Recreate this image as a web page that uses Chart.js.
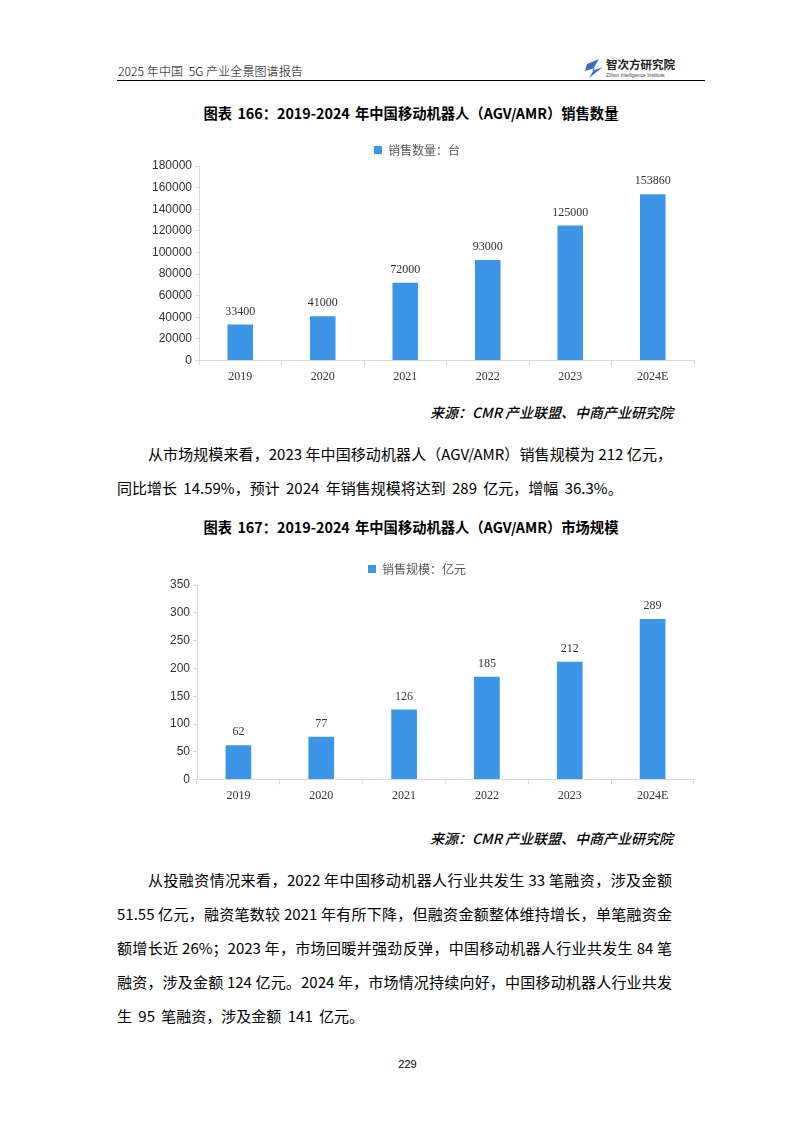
<!DOCTYPE html>
<html><head><meta charset="utf-8">
<script src="https://cdn.jsdelivr.net/npm/chart.js@4.4.1/dist/chart.umd.min.js"></script>
<style>
html,body{margin:0;padding:0;background:#fff;}
body{width:793px;height:1122px;position:relative;overflow:hidden;font-family:"Noto Sans CJK SC","Noto Sans",sans-serif;color:#000;}
.abs{position:absolute;}
.hdr{left:118px;top:62px;font-size:12px;font-family:"Noto Sans CJK SC";font-weight:300;letter-spacing:0.1px;}
.hline{left:117px;top:80px;width:588px;height:0;border-top:1.3px solid #000;}
.title{left:100px;width:622px;text-align:center;font-size:14.3px;font-weight:700;word-spacing:2px;}
.src{width:560px;left:113px;text-align:right;font-size:14px;font-style:italic;font-weight:500;}
.para{left:117px;width:555px;font-size:15px;}
.ln{height:34px;line-height:34px;text-align:justify;text-align-last:justify;white-space:nowrap;}
.ln.first{padding-left:31px;}
.ln.last{text-align-last:left;word-spacing:3px;}
.box{position:absolute;}
.pg{left:380px;width:55px;text-align:center;top:1058px;font-size:11px;font-family:"Liberation Sans",sans-serif;}
</style></head>
<body>
<div class="abs hdr">2025 年中国&nbsp; 5G 产业全景图谱报告</div>
<svg class="abs" style="left:583px;top:56px" width="124" height="24">
  <polygon points="4,8 16,3 9,15 20,11 6,22 12,12 2,15" fill="#3b6fc4"/>
  <text x="23" y="13" font-size="11.5" font-weight="700" font-family="Noto Sans CJK SC" fill="#222">智次方研究院</text>
  <text x="23" y="21" font-size="5" font-family="Liberation Sans" fill="#444">Zillion Intelligence Institute</text>
</svg>
<div class="abs hline"></div>

<div class="abs title" style="top:102px">图表 166：2019-2024 年中国移动机器人（AGV/AMR）销售数量</div>
<div class="box" style="left:140px;top:132px;width:560px;height:256px"><canvas id="c1"></canvas></div>
<div class="abs src" style="top:402px">来源：CMR 产业联盟、中商产业研究院</div>

<div class="abs para" style="top:437px">
<div class="ln first">从市场规模来看，2023 年中国移动机器人（AGV/AMR）销售规模为 212 亿元，</div>
<div class="ln last">同比增长 14.59%，预计 2024 年销售规模将达到 289 亿元，增幅 36.3%。</div>
</div>

<div class="abs title" style="top:516px">图表 167：2019-2024 年中国移动机器人（AGV/AMR）市场规模</div>
<div class="box" style="left:140px;top:551px;width:560px;height:256px"><canvas id="c2"></canvas></div>
<div class="abs src" style="top:828px">来源：CMR 产业联盟、中商产业研究院</div>

<div class="abs para" style="top:863px">
<div class="ln first">从投融资情况来看，2022 年中国移动机器人行业共发生 33 笔融资，涉及金额</div>
<div class="ln">51.55 亿元，融资笔数较 2021 年有所下降，但融资金额整体维持增长，单笔融资金</div>
<div class="ln">额增长近 26%；2023 年，市场回暖并强劲反弹，中国移动机器人行业共发生 84 笔</div>
<div class="ln">融资，涉及金额 124 亿元。2024 年，市场情况持续向好，中国移动机器人行业共发</div>
<div class="ln last">生 95 笔融资，涉及金额 141 亿元。</div>
</div>

<div class="abs pg">229</div>

<script>
// ---- data ----
const years = ["2019", "2020", "2021", "2022", "2023", "2024E"];
const salesUnits = [33400, 41000, 72000, 93000, 125000, 153860];
const salesUnitsLabel = "销售数量：台";
const marketSize = [62, 77, 126, 185, 212, 289];
const marketSizeLabel = "销售规模：亿元";
const axis1 = { min: 0, max: 180000, step: 20000 };
const axis2 = { min: 0, max: 350, step: 50 };

const BAR = "#3c95e6";
const AXIS = "#d9d9d9";
const TXT = "#333333";

const valueLabels = {
  id: "valueLabels",
  afterDatasetsDraw(chart) {
    const ctx = chart.ctx;
    ctx.save();
    ctx.font = "12px 'Liberation Serif', serif";
    ctx.fillStyle = TXT;
    ctx.textAlign = "center";
    ctx.textBaseline = "bottom";
    chart.getDatasetMeta(0).data.forEach((bar, i) => {
      ctx.fillText(String(chart.data.datasets[0].data[i]), bar.x, bar.y - 7);
    });
    ctx.restore();
  }
};

function makeChart(id, values, label, ax, yWidth) {
  return new Chart(document.getElementById(id), {
    type: "bar",
    data: { labels: years, datasets: [{ label, data: values, backgroundColor: BAR, borderWidth: 0,
      categoryPercentage: 1, barPercentage: 0.31 }] },
    options: {
      responsive: true, maintainAspectRatio: false, animation: false, devicePixelRatio: 1,
      layout: { padding: { left: 0, right: 6, top: 0, bottom: 0 } },
      plugins: {
        legend: { display: true, position: "top", align: "center",
          labels: { boxWidth: 8, boxHeight: 8, padding: 12, color: "#595959",
            font: { size: 12, family: "'Noto Sans CJK SC'" } } },
        tooltip: { enabled: false }
      },
      scales: {
        x: {
          grid: { display: true, drawOnChartArea: false, drawTicks: true, tickLength: 5, color: AXIS, offset: true },
          border: { display: true, color: AXIS, width: 1 },
          ticks: { color: TXT, padding: 4, font: { size: 12, family: "'Liberation Serif', serif" } }
        },
        y: {
          min: ax.min, max: ax.max,
          afterFit(s) { s.width = yWidth; },
          grid: { display: true, drawOnChartArea: false, drawTicks: true, tickLength: 4, color: AXIS },
          border: { display: true, color: AXIS, width: 1 },
          ticks: { stepSize: ax.step, color: TXT, padding: 3,
            callback: (v) => String(v),
            font: { size: 12, family: "'Liberation Sans', sans-serif" } }
        }
      }
    },
    plugins: [valueLabels]
  });
}
makeChart("c1", salesUnits, salesUnitsLabel, axis1, 59);
makeChart("c2", marketSize, marketSizeLabel, axis2, 57);
</script>
</body></html>
